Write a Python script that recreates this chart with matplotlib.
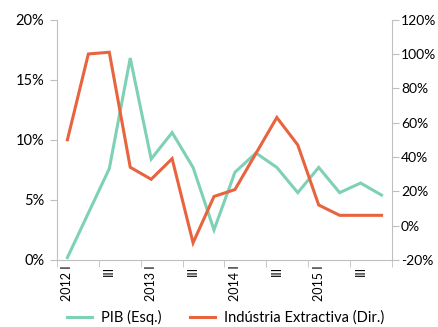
import matplotlib
matplotlib.use("Agg")
import matplotlib.pyplot as plt
from matplotlib.ticker import FuncFormatter, FixedLocator

plt.rcParams['font.family'] = ['Lato', 'DejaVu Sans']

quarters = ["2012 I", "II", "III", "IV", "2013 I", "II", "III", "IV",
            "2014 I", "II", "III", "IV", "2015 I", "II", "III", "IV"]
tick_labels = ["2012 I", "III", "2013 I", "III", "2014 I", "III", "2015 I", "III"]
pib = [0.2, 3.9, 7.6, 16.8, 8.4, 10.6, 7.7, 2.5, 7.3, 8.9, 7.7, 5.6, 7.7, 5.6, 6.4, 5.4]
industria = [50, 100, 101, 34, 27, 39, -10, 17, 21, 42, 63, 47, 12, 6, 6, 6]

green = "#7fd1b6"
orange = "#e7643f"
grey = "#bfbfbf"

fig = plt.figure(figsize=(4.38, 3.27), dpi=100)
ax = fig.add_axes([0.130, 0.205, 0.765, 0.735])
ax2 = ax.twinx()

x = list(range(len(quarters)))
l1, = ax.plot(x, pib, color=green, lw=2.2, solid_joinstyle='miter')
l2, = ax2.plot(x, industria, color=orange, lw=2.2, solid_joinstyle='miter')

ax.set_xlim(-0.5, len(quarters) - 0.5)
ax.set_ylim(0, 20)
ax.set_yticks([0, 5, 10, 15, 20])
ax.yaxis.set_major_formatter(FuncFormatter(lambda v, p: f"{v:.0f}%"))
ax2.set_ylim(-20, 120)
ax2.set_yticks(list(range(-20, 121, 20)))
ax2.yaxis.set_major_formatter(FuncFormatter(lambda v, p: f"{v:.0f}%"))

ax.set_xticks(list(range(0, len(quarters), 2)))
ax.set_xticklabels(tick_labels, rotation=90, fontsize=9)
ax.xaxis.set_minor_locator(FixedLocator([i - 0.5 for i in range(0, len(quarters) + 1, 2)]))
ax.tick_params(axis='x', which='major', length=0, pad=4)
ax.tick_params(axis='x', which='minor', length=5, color=grey)

for a in (ax, ax2):
    a.spines['top'].set_visible(False)
    for s in ('left', 'right', 'bottom'):
        a.spines[s].set_color(grey)
ax.spines['right'].set_visible(False)
ax2.spines['left'].set_visible(False)
ax2.spines['bottom'].set_visible(False)

ax.tick_params(axis='y', length=5, color=grey, labelsize=10.5, pad=4)
ax2.tick_params(axis='y', length=5, color=grey, labelsize=10, pad=1.5)

fig.legend([l1, l2], ["PIB (Esq.)", "Indústria Extractiva (Dir.)"],
           loc='center', bbox_to_anchor=(0.515, 0.03), ncol=2, frameon=False,
           fontsize=10.5, handlelength=1.7, columnspacing=2.0, handletextpad=0.6)

fig.savefig("out.png", dpi=100)
